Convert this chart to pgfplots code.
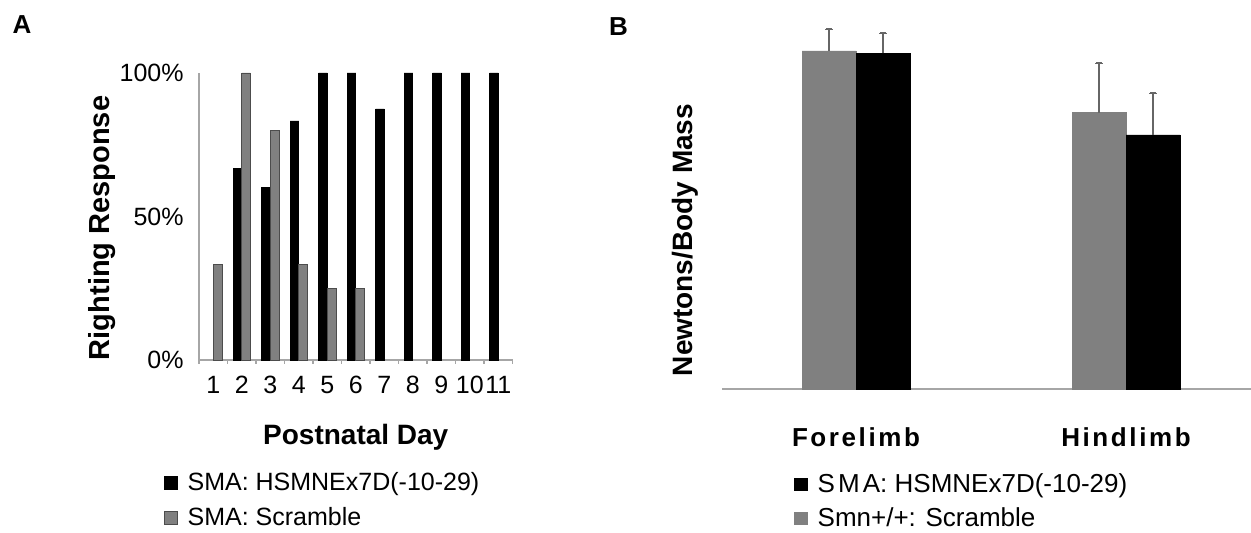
\documentclass[border=0pt]{standalone}
\usepackage{fontspec}
\setmainfont{Liberation Sans}
\usepackage{pgfplots}
\pgfplotsset{compat=1.18}
\definecolor{bargray}{HTML}{808080}
\definecolor{axgray}{HTML}{A6A6A6}
\definecolor{errgray}{HTML}{666666}
\newcommand{\fs}[1]{\fontsize{#1}{#1}\selectfont}
\newcommand{\lsb}{\bfseries\addfontfeatures{LetterSpace=10}}
\begin{document}
\begin{tikzpicture}
\path[use as bounding box] (0,0) rectangle (625.5pt,266.5pt);
\node[font=\bfseries\fs{13}] at (11pt,254pt) {A};
\node[font=\bfseries\fs{13}] at (309.25pt,253.25pt) {B};

\begin{axis}[
  at={(99.5pt,86.5pt)}, anchor=south west,
  scale only axis, width=156.75pt, height=143.5pt,
  xmin=0.5, xmax=11.5, ymin=0, ymax=100,
  clip=false,
  axis x line*=bottom, axis y line*=left,
  axis line style={axgray, line width=0.6pt},
  xtick={1,...,11}, xticklabels={1,2,3,4,5,6,7,8,9,10,11},
  minor xtick={0.5,1.5,...,11.5},
  ytick={0,50,100}, yticklabels={0\%,50\%,100\%},
  major tick length=0pt, minor tick length=2pt, tick align=outside,
  minor tick style={axgray, line width=0.6pt},
  xticklabel style={font=\fs{12.5}, anchor=center, yshift=-12.5pt},
  yticklabel style={font=\fs{12.5}, anchor=east, inner sep=0pt, xshift=-7.5pt},
  xlabel={Postnatal Day},
  xlabel style={font=\bfseries\fs{14}, at={([yshift=-38.5pt]axis description cs:0.5,0)}, anchor=center},
  ylabel={Righting Response},
  ylabel style={font=\bfseries\fs{14.5}, at={([xshift=-48.5pt]axis description cs:0,0.46)}, anchor=center},
  legend style={draw=none, fill=none, font=\fs{12.5}, at={(-0.112,-0.384)}, anchor=north west,
    inner sep=0pt, row sep=4.6pt, nodes={inner sep=1pt}, cells={anchor=west}},
  legend image code/.code={\fill[#1] (0pt,-3.25pt) rectangle (6.5pt,3.25pt); \path[draw=none,fill=none] (0pt,0pt) -- (10.5pt,0pt);},
]
\addplot[ybar, bar width=4.3pt, bar shift=-2.15pt, fill=black, draw=black, line width=0.3pt]
  coordinates {(2,66.7) (3,60) (4,83.3) (5,100) (6,100) (7,87.5) (8,100) (9,100) (10,100) (11,100)};
\addlegendentry{SMA: HSMNEx7D(-10-29)}
\addplot[ybar, bar width=4.3pt, bar shift=2.15pt, fill=bargray, draw=gray!60!black, line width=0.3pt]
  coordinates {(1,33.3) (2,100) (3,80) (4,33.3) (5,25) (6,25)};
\addlegendentry{SMA: Scramble}
\end{axis}

\begin{axis}[
  at={(361pt,72pt)}, anchor=south west,
  scale only axis, width=264.5pt, height=185pt,
  xmin=0.5037, xmax=2.463, ymin=0, ymax=3.7,
  clip=false,
  axis x line*=bottom, axis y line*=left,
  y axis line style={draw=none},
  x axis line style={axgray, line width=0.8pt},
  xtick={1,2}, xticklabels={{\lsb Forelimb},{\lsb Hindlimb}},
  ytick=\empty,
  major tick length=0pt,
  xticklabel style={font=\fs{13}, anchor=center, yshift=-24pt},
  ylabel={Newtons/Body Mass},
  ylabel style={font=\bfseries\fs{14}, at={([xshift=-18.5pt]axis description cs:0,0.4027)}, anchor=center},
  legend style={draw=none, fill=none, font=\fs{13}, at={(0.136,-0.221)}, anchor=north west,
    inner sep=0pt, row sep=4.3pt, nodes={inner sep=1pt}, cells={anchor=west}},
  legend image code/.code={\fill[#1] (0pt,-3.1pt) rectangle (6.2pt,3.1pt); \path[draw=none,fill=none] (0pt,0pt) -- (10.5pt,0pt);},
  reverse legend,
]
\addplot[ybar, bar width=27pt, bar shift=0pt, fill=bargray, draw=bargray, line width=0.3pt,
  error bars/.cd, y dir=plus, y explicit,
  error bar style={errgray, line width=0.6pt}]
  coordinates {(0.9,3.38) +- (0,0.22) (1.9,2.763) +- (0,0.494)};
\addlegendentry{Smn+/+: Scramble}
\addplot[ybar, bar width=27pt, bar shift=0pt, fill=black, draw=black, line width=0.3pt,
  error bars/.cd, y dir=plus, y explicit,
  error bar style={errgray, line width=0.6pt}]
  coordinates {(1.1,3.357) +- (0,0.20) (2.1,2.54) +- (0,0.417)};
\addlegendentry{S\hspace{0.12em}M\hspace{0.12em}A: HSMNEx7D(-10-29)}
\addplot[forget plot, only marks, mark=-, mark size=1.6pt, mark options={draw=errgray, line width=0.8pt}]
  coordinates {(0.9,3.60) (1.9,3.257) (1.1,3.557) (2.1,2.957)};
\end{axis}
\end{tikzpicture}
\end{document}
